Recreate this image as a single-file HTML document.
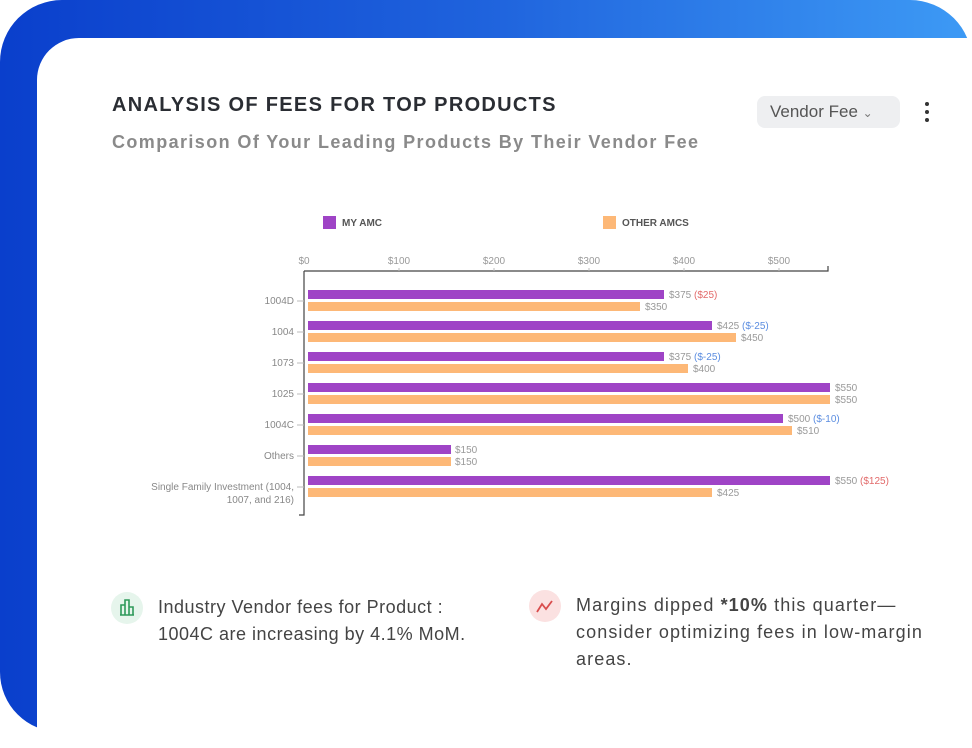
<!DOCTYPE html>
<html><head><meta charset="utf-8"><style>
body{margin:0;width:972px;height:740px;background:#fff;position:relative;overflow:hidden;font-family:"Liberation Sans",sans-serif}
.outer{position:absolute;left:0;top:0;width:972px;height:732px;border-radius:62px 62px 0 60px;background:linear-gradient(90deg,#0a3fcc 0%,#1f63dd 50%,#3d9af5 100%)}
.card{position:absolute;left:37px;top:38px;width:960px;height:710px;background:#fff;border-radius:42px 0 0 0}
.t{position:absolute;white-space:nowrap}
</style></head><body>
<div class="outer"></div>
<div class="card"></div>
<div class="t" style="left:112px;top:94px;font-size:20px;font-weight:bold;letter-spacing:1.3px;color:#2a2d33">ANALYSIS OF FEES FOR TOP PRODUCTS</div>
<div class="t" style="left:112px;top:132px;font-size:18px;font-weight:bold;color:#8a8a8a;letter-spacing:1.4px">Comparison Of Your Leading Products By Their Vendor Fee</div>
<div class="t" style="left:757px;top:96px;width:143px;height:32px;background:#eeeff1;border-radius:8px;font-size:17px;color:#555;line-height:32px;text-indent:13px">Vendor Fee <span style="font-size:12px;color:#777">&#8964;</span></div>
<div class="t" style="left:925px;top:102px;width:4px;height:4px;border-radius:2px;background:#333"></div>
<div class="t" style="left:925px;top:110px;width:4px;height:4px;border-radius:2px;background:#333"></div>
<div class="t" style="left:925px;top:118px;width:4px;height:4px;border-radius:2px;background:#333"></div>
<svg class="t" style="left:0;top:0" width="972" height="740" font-family="Liberation Sans, sans-serif">
<rect x="323" y="216" width="13" height="13" fill="#9f44c6"/>
<text x="342" y="226" font-size="10" font-weight="bold" fill="#555">MY AMC</text>
<rect x="603" y="216" width="13" height="13" fill="#fdb877"/>
<text x="622" y="226" font-size="10" font-weight="bold" fill="#555">OTHER AMCS</text>
<g font-size="10" fill="#999" text-anchor="middle">
<text x="304" y="264">$0</text><text x="399" y="264">$100</text><text x="494" y="264">$200</text><text x="589" y="264">$300</text><text x="684" y="264">$400</text><text x="779" y="264">$500</text>
</g>
<g stroke="#444" stroke-width="1.2" fill="none">
<path d="M304 271H828V266M304 271V515H299"/>
</g>
<g stroke="#bbb"><path d="M399 268V271M494 268V271M589 268V271M684 268V271M779 268V271"/></g>
<g font-size="10" fill="#888" text-anchor="end">
<text x="294" y="304">1004D</text><text x="294" y="335">1004</text><text x="294" y="366">1073</text><text x="294" y="397">1025</text><text x="294" y="428">1004C</text><text x="294" y="459">Others</text>
<text x="294" y="490">Single Family Investment (1004,</text><text x="294" y="503">1007, and 216)</text>
</g>
<g stroke="#bbb"><path d="M297 301H304M297 332H304M297 363H304M297 394H304M297 425H304M297 456H304M297 487H304"/></g>
<g fill="#9f44c6">
<rect x="308" y="290" width="356" height="9"/><rect x="308" y="321" width="404" height="9"/><rect x="308" y="352" width="356" height="9"/><rect x="308" y="383" width="522" height="9"/><rect x="308" y="414" width="475" height="9"/><rect x="308" y="445" width="143" height="9"/><rect x="308" y="476" width="522" height="9"/>
</g>
<g fill="#fdb877">
<rect x="308" y="302" width="332" height="9"/><rect x="308" y="333" width="428" height="9"/><rect x="308" y="364" width="380" height="9"/><rect x="308" y="395" width="522" height="9"/><rect x="308" y="426" width="484" height="9"/><rect x="308" y="457" width="143" height="9"/><rect x="308" y="488" width="404" height="9"/>
</g>
<g font-size="10" fill="#999">
<text x="669" y="298">$375 <tspan fill="#e26a6a">($25)</tspan></text><text x="645" y="310">$350</text>
<text x="717" y="329">$425 <tspan fill="#5b8de0">($-25)</tspan></text><text x="741" y="341">$450</text>
<text x="669" y="360">$375 <tspan fill="#5b8de0">($-25)</tspan></text><text x="693" y="372">$400</text>
<text x="835" y="391">$550</text><text x="835" y="403">$550</text>
<text x="788" y="422">$500 <tspan fill="#5b8de0">($-10)</tspan></text><text x="797" y="434">$510</text>
<text x="455" y="453">$150</text><text x="455" y="465">$150</text>
<text x="835" y="484">$550 <tspan fill="#e26a6a">($125)</tspan></text><text x="717" y="496">$425</text>
</g>
<circle cx="127" cy="608" r="16" fill="#e6f5ec"/>
<g stroke="#2e9a5a" stroke-width="1.6" fill="none"><path d="M120 615H134M121 615V605H125V615M125 615V600H129V615M129 615V607H133V615"/></g>
<circle cx="545" cy="606" r="16" fill="#fbe1e1"/>
<path d="M537 612L542 604L546 609L552 601" stroke="#d94c4c" stroke-width="1.8" fill="none"/>
</svg>
<div class="t" style="left:158px;top:594px;font-size:18px;line-height:27px;color:#444;letter-spacing:0.5px">Industry Vendor fees for Product :<br>1004C are increasing by 4.1% MoM.</div>
<div class="t" style="left:576px;top:592px;font-size:18px;line-height:27px;color:#444;letter-spacing:1.1px">Margins dipped <b>*10%</b> this quarter—<br>consider optimizing fees in low-margin<br>areas.</div>
</body></html>
